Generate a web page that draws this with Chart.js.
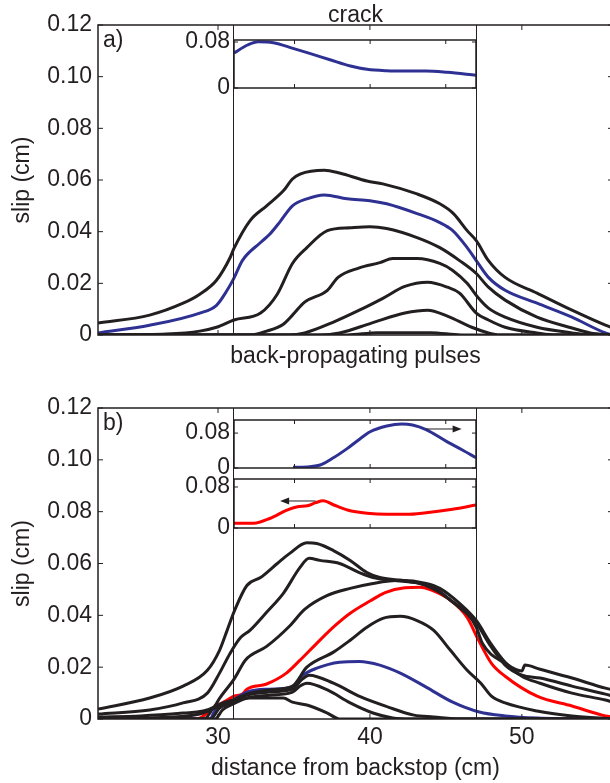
<!DOCTYPE html>
<html>
<head>
<meta charset="utf-8">
<title>slip profiles</title>
<script src="https://cdn.jsdelivr.net/npm/chart.js@4.4.1/dist/chart.umd.min.js"></script>
<style>
  html, body { margin: 0; padding: 0; background: #fff; overflow: hidden; }
  #fig { position: relative; width: 610px; height: 783px; overflow: hidden; background: #fff; }
  #fig canvas { position: absolute; }
</style>
</head>
<body>
<div id="fig">
  <canvas id="panelA" width="620" height="370" style="left:0px;top:0px"></canvas>
  <canvas id="panelB" width="620" height="413" style="left:0px;top:370px"></canvas>
  <canvas id="insetA" width="340" height="70" style="left:150px;top:30px"></canvas>
  <canvas id="insetB1" width="340" height="75" style="left:150px;top:405px"></canvas>
  <canvas id="insetB2" width="340" height="72" style="left:150px;top:470px"></canvas>
</div>
<script>
const FONT = '"Liberation Sans", Arial, Helvetica, sans-serif';
const INK = '#231f20';
const BLUE = '#2e3192';
const RED = '#ff0000';

// axes
const xMin = 22.1, xMax = 56;
const xTicks = [30, 40, 50];
const xTickLabels = ['30', '40', '50'];
const slipTicks = [0, 0.02, 0.04, 0.06, 0.08, 0.1, 0.12];
const slipTickLabels = ['0', '0.02', '0.04', '0.06', '0.08', '0.10', '0.12'];
const insetTicks = [0, 0.08];
const insetTickLabels = ['0', '0.08'];
const insetXTicks = [35, 40, 45];
const windowEdges = [31, 47];

// a) crack: slip snapshots
const aK1X = [22.1, 25.5, 27.7, 28.8, 29.9, 30.8, 31.05, 32.1, 33.2, 34.3, 34.9, 35.4, 37.0, 38.0, 39.8, 40.85, 43.1, 44.6, 45.5, 46.4, 47.0, 47.8, 48.9, 51.0, 53.3, 55.5, 56];
const aK1Y = [0.0046, 0.0077, 0.0123, 0.0158, 0.0212, 0.030, 0.0335, 0.0442, 0.050, 0.0558, 0.0604, 0.0623, 0.0638, 0.0627, 0.0596, 0.0585, 0.0546, 0.0508, 0.047, 0.0404, 0.0365, 0.0288, 0.0223, 0.0162, 0.0096, 0.0038, 0.0027];
const aBlueX = [22.1, 25.5, 28.8, 29.9, 30.6, 31.05, 31.6, 32.8, 33.4, 34.1, 34.9, 35.85, 37.0, 38.5, 40.0, 41.1, 43.1, 44.6, 45.45, 46.4, 47.0, 47.8, 48.9, 51.0, 53.3, 55.5, 56];
const aBlueY = [0.0008, 0.0038, 0.0085, 0.0115, 0.0173, 0.022, 0.0288, 0.0358, 0.039, 0.044, 0.050, 0.0527, 0.0542, 0.0527, 0.052, 0.0508, 0.047, 0.0435, 0.0404, 0.0338, 0.0288, 0.0223, 0.0173, 0.0123, 0.0069, 0.0008, 0];
const aK2X = [22.1, 26.6, 28.8, 29.9, 31.05, 32.8, 33.9, 34.9, 35.85, 37.2, 38.7, 40.0, 41.1, 43.1, 44.6, 45.9, 47.0, 47.8, 48.9, 51.0, 53.3, 54.5, 56];
const aK2Y = [0, 0.0004, 0.0015, 0.003, 0.0058, 0.0085, 0.0158, 0.0277, 0.0338, 0.0404, 0.0415, 0.0419, 0.0412, 0.0377, 0.0338, 0.0288, 0.0238, 0.0185, 0.0135, 0.0069, 0.0027, 0.0008, 0];
const aK3X = [22.1, 32.1, 33.2, 34.3, 34.9, 35.7, 37.2, 37.9, 39.3, 40.65, 41.5, 43.1, 44.6, 45.45, 46.4, 47.1, 47.8, 48.9, 51.0, 53.3, 54.5, 56];
const aK3Y = [0, 0, 0.0015, 0.0042, 0.0077, 0.0127, 0.0173, 0.0223, 0.026, 0.028, 0.0296, 0.0296, 0.0277, 0.025, 0.02, 0.0146, 0.0104, 0.0069, 0.003, 0.0008, 0, 0];
const aK4X = [22.1, 34.7, 35.7, 37.6, 39.3, 40.85, 42.3, 43.8, 45.1, 45.9, 47.0, 47.8, 48.9, 51.0, 52.2, 56];
const aK4Y = [0, 0, 0.0008, 0.005, 0.0096, 0.0142, 0.0188, 0.0204, 0.0185, 0.0162, 0.0085, 0.0058, 0.003, 0.0008, 0, 0];
const aK5X = [22.1, 36.7, 38.0, 40.1, 42.3, 43.8, 45.1, 46.7, 47.8, 48.55, 56];
const aK5Y = [0, 0, 0.0008, 0.0046, 0.0085, 0.0096, 0.0073, 0.003, 0.0008, 0, 0];
const aK6X = [22.1, 38.5, 40.5, 44.0, 46.0, 56];
const aK6Y = [0, 0, 0.0009, 0.0009, 0, 0];

// a) inset
const crackX = [31.0, 31.9, 32.6, 33.6, 34.9, 36.0, 37.4, 38.7, 39.8, 41.1, 42.4, 43.7, 45.1, 47.0];
const crackY = [0.061, 0.0748, 0.0805, 0.0788, 0.069, 0.0603, 0.0487, 0.0383, 0.0325, 0.0301, 0.0296, 0.0296, 0.0273, 0.0222];

// b) back-propagating pulses
const bK1X = [22.1, 25.5, 27.7, 29.3, 30.1, 30.6, 31.1, 31.9, 32.8, 33.9, 34.7, 35.85, 36.5, 37.6, 38.7, 39.8, 40.65, 42.0, 43.3, 44.2, 45.3, 46.4, 47.0, 47.4, 48.9, 50.0, 50.2, 51.2, 53.3, 55.5, 56];
const bK1Y = [0.0038, 0.0081, 0.0127, 0.0188, 0.0265, 0.0342, 0.042, 0.0515, 0.0546, 0.06, 0.0638, 0.068, 0.0677, 0.065, 0.0612, 0.0565, 0.0546, 0.0535, 0.0523, 0.0508, 0.0458, 0.0408, 0.0354, 0.0292, 0.0215, 0.0185, 0.0208, 0.0192, 0.0158, 0.0119, 0.0112];
const bK2X = [22.1, 25.5, 27.7, 29.3, 30.1, 30.8, 31.5, 32.1, 33.2, 34.3, 35.4, 36.0, 36.7, 38.0, 39.3, 40.2, 41.5, 43.3, 44.6, 45.9, 47.0, 47.9, 48.9, 50.0, 51.2, 53.3, 55.5, 56];
const bK2Y = [0.0019, 0.0035, 0.0062, 0.01, 0.0177, 0.0254, 0.0315, 0.0342, 0.0412, 0.0485, 0.0585, 0.062, 0.0612, 0.06, 0.0565, 0.0546, 0.0535, 0.0523, 0.0488, 0.043, 0.037, 0.0285, 0.0208, 0.0169, 0.0158, 0.0127, 0.0096, 0.0088];
const bK3X = [22.1, 24.9, 27.7, 29.7, 30.1, 31.1, 31.8, 33.2, 34.7, 35.7, 37.2, 38.7, 40.2, 42.0, 43.7, 44.6, 45.9, 47.0, 47.9, 48.9, 50.0, 51.2, 53.3, 55.5, 56];
const bK3Y = [0.0008, 0.0012, 0.0023, 0.0045, 0.008, 0.0158, 0.0227, 0.028, 0.0358, 0.0423, 0.0477, 0.0504, 0.0523, 0.0535, 0.0523, 0.0504, 0.0446, 0.038, 0.0296, 0.0219, 0.0165, 0.0138, 0.01, 0.0073, 0.0065];
const bK4X = [22.1, 25.5, 28.8, 30.1, 31.0, 31.9, 33.4, 34.9, 35.85, 37.6, 38.7, 39.8, 40.85, 42.0, 43.1, 44.2, 45.3, 46.4, 47.3, 48.0, 48.9, 51.0, 53.3, 56];
const bK4Y = [0, 0.0004, 0.0019, 0.005, 0.0073, 0.0096, 0.0112, 0.0127, 0.02, 0.0258, 0.0304, 0.0354, 0.0388, 0.0396, 0.038, 0.0342, 0.0265, 0.0188, 0.0138, 0.0088, 0.0062, 0.0031, 0.0012, 0];
const bK5X = [22.1, 29.5, 30.1, 31.0, 31.9, 33.4, 34.9, 35.55, 36.0, 37.6, 39.4, 41.2, 42.9, 44.2, 46.0, 56];
const bK5Y = [0, 0, 0.0042, 0.0065, 0.0092, 0.0104, 0.0115, 0.0154, 0.0169, 0.0138, 0.0085, 0.0046, 0.0015, 0.0008, 0, 0];
const bK6X = [22.1, 29.8, 30.3, 31.0, 31.9, 33.4, 34.9, 35.4, 35.85, 37.2, 38.7, 40.2, 41.5, 42.6, 56];
const bK6Y = [0, 0, 0.0035, 0.0058, 0.0081, 0.0092, 0.0104, 0.0127, 0.0138, 0.0112, 0.0062, 0.0023, 0.0004, 0, 0];
const bK7X = [22.1, 29.1, 29.7, 31.0, 32.1, 34.3, 34.9, 35.85, 37.2, 38.0, 56];
const bK7Y = [0, 0, 0.0042, 0.0073, 0.0081, 0.0081, 0.0065, 0.0054, 0.0023, 0, 0];
const bBlueX = [22.1, 29.5, 29.7, 30.1, 31.0, 31.9, 33.4, 34.9, 35.6, 36.5, 38.0, 39.3, 40.65, 42.0, 43.7, 45.45, 47.2, 48.9, 51.0, 56];
const bBlueY = [0, 0, 0.0023, 0.005, 0.0073, 0.0104, 0.0115, 0.0123, 0.0169, 0.0196, 0.0219, 0.0222, 0.0208, 0.0177, 0.0123, 0.0065, 0.0027, 0.0012, 0.0004, 0];
const bRedX = [22.1, 28.6, 29.7, 30.6, 31.05, 31.6, 31.9, 33.2, 34.5, 35.4, 36.5, 37.7, 38.7, 40.0, 41.0, 42.3, 43.3, 44.1, 45.3, 46.4, 47.1, 48.0, 48.9, 51.0, 53.3, 55.5, 56];
const bRedY = [0, 0, 0.0042, 0.0073, 0.0088, 0.0096, 0.0115, 0.0135, 0.0177, 0.0227, 0.0292, 0.036, 0.0408, 0.0455, 0.0488, 0.0506, 0.0508, 0.0496, 0.0458, 0.0392, 0.031, 0.0215, 0.0165, 0.0088, 0.005, 0.0012, 0.0008];

// b) insets: forward pulse (blue) and backward pulse (red)
const outX = [34.9, 36.0, 36.7, 37.6, 38.5, 39.3, 40.0, 41.1, 42.1, 42.8, 43.7, 45.1, 46.1, 47.0];
const outY = [0.0016, 0.003, 0.0069, 0.024, 0.045, 0.066, 0.083, 0.0963, 0.101, 0.0986, 0.088, 0.060, 0.0413, 0.0236];
const backX = [31.0, 32.3, 33.4, 34.5, 35.2, 35.85, 36.4, 36.9, 37.6, 38.5, 39.8, 41.1, 42.4, 43.7, 45.45, 47.0];
const backY = [0.0092, 0.0092, 0.019, 0.035, 0.0416, 0.0435, 0.0494, 0.0533, 0.0449, 0.035, 0.0287, 0.0267, 0.0267, 0.0299, 0.0365, 0.0449];
const outArrow = { from: 43.7, to: 46.05, at: 0.0894 };
const backArrow = { from: 36.4, to: 34.05, at: 0.0527 };

Chart.defaults.font.family = FONT;
Chart.defaults.color = INK;

function line(xs, ys, color) {
  return {
    data: xs.map((x, i) => ({ x: x, y: ys[i] })),
    borderColor: color,
    borderWidth: 3,
    pointRadius: 0,
    fill: false,
    cubicInterpolationMode: 'monotone'
  };
}

// box, inward ticks, window lines, arrows and panel letter
const framePlugin = {
  id: 'frame',
  afterDatasetsDraw(chart, args, opts) {
    const ctx = chart.ctx, a = chart.chartArea;
    const x = chart.scales.x, y = chart.scales.y;
    ctx.save();
    ctx.strokeStyle = INK;
    ctx.fillStyle = INK;
    ctx.lineWidth = 1;
    (opts.edges || []).forEach(v => {
      const px = Math.round(x.getPixelForValue(v)) + 0.5;
      ctx.beginPath();
      ctx.moveTo(px, a.top);
      ctx.lineTo(px, a.bottom);
      ctx.stroke();
    });
    const len = opts.tickLen;
    ctx.beginPath();
    opts.xTicks.forEach(v => {
      const px = x.getPixelForValue(v);
      ctx.moveTo(px, a.bottom); ctx.lineTo(px, a.bottom - len);
      ctx.moveTo(px, a.top); ctx.lineTo(px, a.top + len);
    });
    opts.yTicks.forEach(v => {
      const py = y.getPixelForValue(v);
      ctx.moveTo(a.left, py); ctx.lineTo(a.left + len, py);
      ctx.moveTo(a.right, py); ctx.lineTo(a.right - len, py);
    });
    ctx.stroke();
    (opts.arrows || []).forEach(ar => {
      const x0 = x.getPixelForValue(ar.from), x1 = x.getPixelForValue(ar.to);
      const py = y.getPixelForValue(ar.at);
      const dir = Math.sign(x1 - x0);
      ctx.lineWidth = 1;
      ctx.beginPath();
      ctx.moveTo(x0, py);
      ctx.lineTo(x1 - dir * 6, py);
      ctx.stroke();
      ctx.beginPath();
      ctx.moveTo(x1, py);
      ctx.lineTo(x1 - dir * 9, py - 3.5);
      ctx.lineTo(x1 - dir * 9, py + 3.5);
      ctx.closePath();
      ctx.fill();
    });
    ctx.lineWidth = opts.frameWidth;
    ctx.strokeRect(a.left, a.top, a.right - a.left, a.bottom - a.top);
    if (opts.letter) {
      ctx.font = '23px ' + FONT;
      ctx.textBaseline = 'alphabetic';
      ctx.textAlign = 'left';
      ctx.fillText(opts.letter, a.left + 5, a.top + 22);
    }
    ctx.restore();
  }
};

function slipAxis() {
  return {
    type: 'linear', position: 'left', min: 0, max: 0.12,
    grid: { display: false, drawTicks: false },
    border: { display: false },
    afterBuildTicks: s => { s.ticks = slipTicks.map(v => ({ value: v })); },
    ticks: { font: { size: 23 }, padding: 6, autoSkip: false, callback: (v, i) => slipTickLabels[i] },
    title: { display: true, text: 'slip (cm)', font: { size: 23 }, padding: { top: 9, bottom: 0 } },
    afterFit: s => { s.width = 98; s.paddingTop = 0; s.paddingBottom = 0; }
  };
}

function baseOptions(padding, frame) {
  return {
    responsive: false,
    animation: false,
    events: [],
    layout: { padding: padding },
    plugins: { legend: { display: false }, tooltip: { enabled: false }, frame: frame }
  };
}

// a) crack
const optA = baseOptions({ left: 0, right: 7, top: 0, bottom: 0 },
  { edges: windowEdges, xTicks: xTicks, yTicks: slipTicks, tickLen: 5, frameWidth: 1.5, letter: 'a)' });
optA.scales = {
  x: {
    type: 'linear', position: 'bottom', min: xMin, max: xMax,
    grid: { display: false, drawTicks: false }, border: { display: false },
    ticks: { display: false },
    title: { display: true, text: 'back-propagating pulses', font: { size: 23 }, padding: 0 },
    afterFit: s => { s.height = 35; }
  },
  xTop: {
    type: 'linear', position: 'top', min: xMin, max: xMax,
    grid: { display: false, drawTicks: false }, border: { display: false },
    ticks: { display: false },
    title: { display: true, text: 'crack', font: { size: 23 }, padding: { top: 2, bottom: 0 } },
    afterFit: s => { s.height = 25; }
  },
  y: slipAxis()
};
new Chart(document.getElementById('panelA'), {
  type: 'line',
  data: { datasets: [
    line(aK6X, aK6Y, INK), line(aK5X, aK5Y, INK), line(aK4X, aK4Y, INK),
    line(aK3X, aK3Y, INK), line(aK2X, aK2Y, INK), line(aK1X, aK1Y, INK),
    line(aBlueX, aBlueY, BLUE)
  ] },
  options: optA,
  plugins: [framePlugin]
});

// b) back-propagating pulses
const optB = baseOptions({ left: 0, right: 7, top: 38, bottom: 0 },
  { edges: windowEdges, xTicks: xTicks, yTicks: slipTicks, tickLen: 5, frameWidth: 1.5, letter: 'b)' });
optB.scales = {
  x: {
    type: 'linear', position: 'bottom', min: xMin, max: xMax,
    grid: { display: false, drawTicks: false }, border: { display: false },
    afterBuildTicks: s => { s.ticks = xTicks.map(v => ({ value: v })); },
    ticks: { font: { size: 23 }, padding: 5, autoSkip: false, maxRotation: 0, callback: (v, i) => xTickLabels[i] },
    title: { display: true, text: 'distance from backstop (cm)', font: { size: 23 }, padding: { top: 0, bottom: 1 } },
    afterFit: s => { s.height = 64; s.paddingLeft = 0; s.paddingRight = 0; }
  },
  y: slipAxis()
};
new Chart(document.getElementById('panelB'), {
  type: 'line',
  data: { datasets: [
    line(bK7X, bK7Y, INK), line(bK6X, bK6Y, INK), line(bK5X, bK5Y, INK),
    line(bK4X, bK4Y, INK), line(bK3X, bK3Y, INK), line(bK2X, bK2Y, INK),
    line(bK1X, bK1Y, INK), line(bBlueX, bBlueY, BLUE), line(bRedX, bRedY, RED)
  ] },
  options: optB,
  plugins: [framePlugin]
});

// insets over the 31-47 cm window
function inset(id, xs, ys, color, yMax, padding, arrows) {
  const opt = baseOptions(padding,
    { xTicks: insetXTicks, yTicks: insetTicks, tickLen: 4, frameWidth: 1.5, arrows: arrows });
  opt.scales = {
    x: { type: 'linear', min: windowEdges[0], max: windowEdges[1], display: false },
    y: {
      type: 'linear', position: 'left', min: 0, max: yMax,
      grid: { display: false, drawTicks: false }, border: { display: false },
      afterBuildTicks: s => { s.ticks = insetTicks.map(v => ({ value: v })); },
      ticks: { font: { size: 23 }, padding: 4, autoSkip: false, callback: (v, i) => insetTickLabels[i] },
      afterFit: s => { s.width = 84; s.paddingTop = 0; s.paddingBottom = 0; }
    }
  };
  return new Chart(document.getElementById(id), {
    type: 'line',
    data: { datasets: [line(xs, ys, color)] },
    options: opt,
    plugins: [framePlugin]
  });
}

inset('insetA', crackX, crackY, BLUE, 0.0835, { left: 0, right: 14, top: 10, bottom: 12 }, []);
inset('insetB1', outX, outY, BLUE, 0.11, { left: 0, right: 14, top: 15, bottom: 12 }, [outArrow]);
inset('insetB2', backX, backY, RED, 0.0956, { left: 0, right: 14, top: 9, bottom: 14 }, [backArrow]);
</script>
</body>
</html>
